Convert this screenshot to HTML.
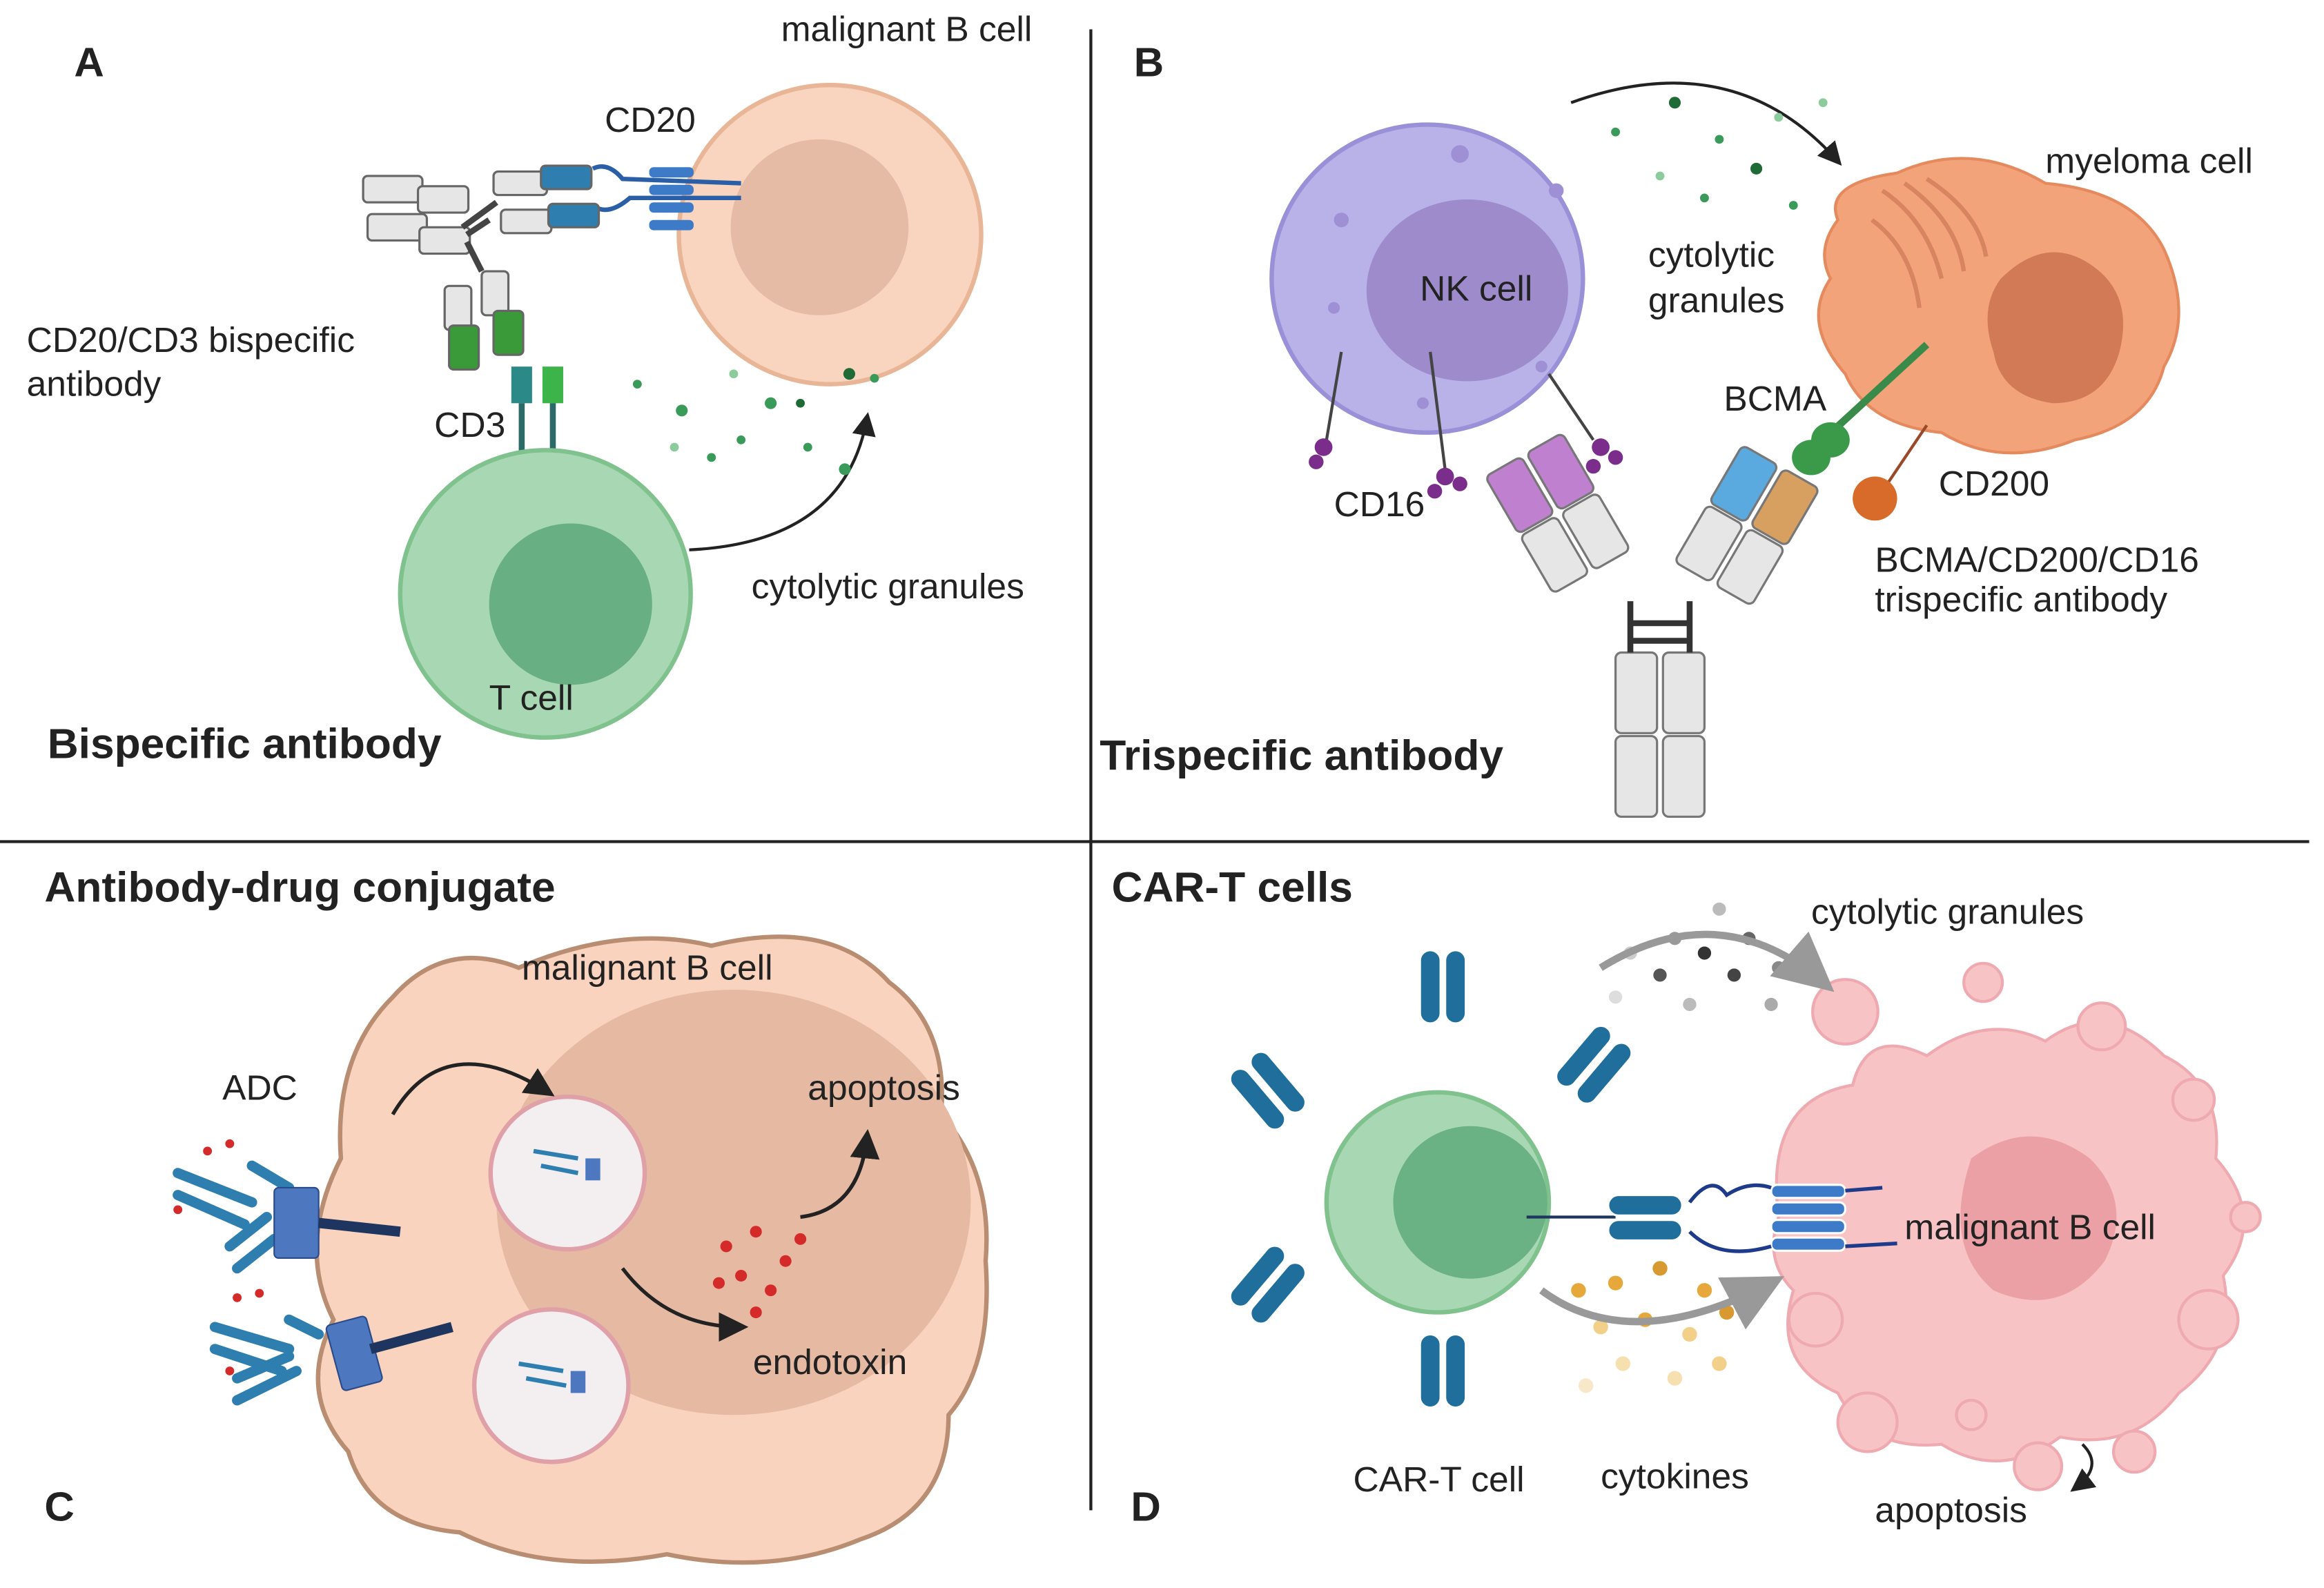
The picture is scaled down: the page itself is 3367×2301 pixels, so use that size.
<!DOCTYPE html>
<html><head><meta charset="utf-8"><style>
html,body{margin:0;padding:0;background:#fff;}
svg{display:block;}
text{font-family:"Liberation Sans",sans-serif;fill:#222;}
.b{font-weight:bold;}
</style></head><body>
<svg width="3367" height="2301" viewBox="0 0 1568 1083" preserveAspectRatio="none" xmlns="http://www.w3.org/2000/svg">
<defs>
<marker id="ar" markerWidth="8" markerHeight="8" refX="6" refY="4" orient="auto"><path d="M0,0 L8,4 L0,8 z" fill="#222"/></marker>
<marker id="ag" markerWidth="8" markerHeight="8" refX="6" refY="4" orient="auto"><path d="M0,0 L8,4 L0,8 z" fill="#999"/></marker>
</defs>
<rect width="1568" height="1083" fill="#fff"/>
<line x1="736" y1="20" x2="736" y2="1030" stroke="#222" stroke-width="2"/>
<line x1="0" y1="574" x2="1558" y2="574" stroke="#222" stroke-width="2"/>

<!-- Panel A -->
<text x="50" y="52" font-size="28" class="b">A</text>
<circle cx="560" cy="160" r="102" fill="#f9d5c0" stroke="#e8b596" stroke-width="3"/>
<circle cx="553" cy="155" r="60" fill="#e6bba5"/>
<text x="527" y="28" font-size="24">malignant B cell</text>
<text x="408" y="90" font-size="24">CD20</text>
<g stroke="#2a5fa8" stroke-width="3" fill="none">
<path d="M400,115 Q410,110 420,122 L500,125"/><path d="M400,140 Q410,148 425,135 L500,135"/>
</g>
<g fill="#3d7bc9"><rect x="438" y="114" width="30" height="7" rx="3"/><rect x="438" y="126" width="30" height="7" rx="3"/><rect x="438" y="138" width="30" height="7" rx="3"/><rect x="438" y="150" width="30" height="7" rx="3"/></g>
<g stroke="#666" stroke-width="1.5">
<rect x="333" y="117" width="36" height="16" rx="3" fill="#e6e6e6"/><rect x="365" y="113" width="34" height="16" rx="3" fill="#2e7fb0"/>
<rect x="338" y="143" width="34" height="16" rx="3" fill="#e6e6e6"/><rect x="370" y="139" width="34" height="16" rx="3" fill="#2e7fb0"/>
<rect x="245" y="120" width="40" height="18" rx="3" fill="#e6e6e6"/><rect x="282" y="127" width="34" height="18" rx="3" fill="#e6e6e6"/>
<rect x="248" y="146" width="40" height="18" rx="3" fill="#e6e6e6"/><rect x="283" y="155" width="34" height="18" rx="3" fill="#e6e6e6"/>
<rect x="300" y="195" width="18" height="30" rx="3" fill="#e6e6e6"/><rect x="303" y="222" width="20" height="30" rx="3" fill="#3a9a3a"/>
<rect x="325" y="185" width="18" height="30" rx="3" fill="#e6e6e6"/><rect x="333" y="212" width="20" height="30" rx="3" fill="#3a9a3a"/>
</g>
<path d="M315,160 L330,150 M315,165 L325,185 M312,155 L335,138" stroke="#444" stroke-width="4" fill="none"/>
<rect x="345" y="250" width="14" height="25" fill="#2b8a88"/><rect x="366" y="250" width="14" height="25" fill="#3cb44a"/>
<line x1="352" y1="275" x2="352" y2="340" stroke="#2b6a66" stroke-width="4"/><line x1="373" y1="275" x2="373" y2="340" stroke="#2b6a66" stroke-width="4"/>
<text x="18" y="240" font-size="24">CD20/CD3 bispecific</text>
<text x="18" y="270" font-size="24">antibody</text>
<text x="293" y="298" font-size="24">CD3</text>
<circle cx="368" cy="405" r="98" fill="#a8d8b3" stroke="#80c28e" stroke-width="3"/>
<circle cx="385" cy="412" r="55" fill="#68b083"/>
<text x="330" y="484" font-size="24">T cell</text>
<path d="M465,375 Q570,370 585,285" stroke="#222" stroke-width="2" fill="none" marker-end="url(#ar)"/>
<text x="507" y="408" font-size="24">cytolytic granules</text>
<g fill="#3a9a5a"><circle cx="430" cy="262" r="3"/><circle cx="460" cy="280" r="4"/><circle cx="500" cy="300" r="3"/><circle cx="520" cy="275" r="4"/><circle cx="545" cy="305" r="3"/><circle cx="570" cy="320" r="4"/><circle cx="590" cy="258" r="3"/><circle cx="480" cy="312" r="3"/><circle cx="540" cy="275" r="3" fill="#1f6b35"/><circle cx="495" cy="255" r="3" fill="#8ccc9c"/><circle cx="573" cy="255" r="4" fill="#1f6b35"/><circle cx="455" cy="305" r="3" fill="#8ccc9c"/></g>
<text x="32" y="517" font-size="29" class="b">Bispecific antibody</text>

<!-- Panel B -->
<text x="765" y="52" font-size="28" class="b">B</text>
<circle cx="963" cy="190" r="105" fill="#b9b2e8" stroke="#9a90d8" stroke-width="3"/>
<ellipse cx="990" cy="198" rx="68" ry="62" fill="#9d8bcb"/>
<text x="958" y="205" font-size="24">NK cell</text>
<g fill="#9f90d5"><circle cx="905" cy="150" r="5"/><circle cx="985" cy="105" r="6"/><circle cx="1050" cy="130" r="5"/><circle cx="900" cy="210" r="4"/><circle cx="1040" cy="250" r="4"/><circle cx="960" cy="275" r="4"/></g>
<g stroke="#444" stroke-width="2" fill="none"><path d="M905,240 L895,300"/><path d="M965,240 L975,320"/><path d="M1045,255 L1075,300"/></g>
<g fill="#7a2d8a"><circle cx="893" cy="305" r="6"/><circle cx="888" cy="315" r="5"/><circle cx="975" cy="325" r="6"/><circle cx="985" cy="330" r="5"/><circle cx="968" cy="335" r="5"/><circle cx="1080" cy="305" r="6"/><circle cx="1090" cy="312" r="5"/><circle cx="1075" cy="318" r="5"/></g>
<text x="900" y="352" font-size="24">CD16</text>
<path d="M1240,150 Q1230,125 1280,118 Q1330,95 1380,125 Q1440,130 1460,170 Q1480,215 1460,250 Q1450,290 1400,300 Q1350,320 1310,295 Q1260,290 1245,255 Q1215,220 1235,190 Q1225,170 1240,150 Z" fill="#f3a37a" stroke="#e58a5e" stroke-width="2"/>
<path d="M1350,190 Q1380,160 1410,180 Q1440,200 1430,240 Q1420,275 1385,275 Q1350,270 1345,240 Q1335,210 1350,190 Z" fill="#d27a55"/>
<g stroke="#d98460" stroke-width="3" fill="none"><path d="M1270,130 Q1300,150 1310,190"/><path d="M1285,125 Q1320,150 1325,185"/><path d="M1300,122 Q1335,145 1340,175"/><path d="M1263,150 Q1290,170 1295,210"/></g>
<text x="1380" y="118" font-size="24">myeloma cell</text>
<text x="1112" y="182" font-size="24">cytolytic</text>
<text x="1112" y="213" font-size="24">granules</text>
<path d="M1060,70 Q1170,30 1240,110" stroke="#222" stroke-width="2" fill="none" marker-end="url(#ar)"/>
<g fill="#3a9a5a"><circle cx="1090" cy="90" r="3"/><circle cx="1130" cy="70" r="4" fill="#1f6b35"/><circle cx="1160" cy="95" r="3"/><circle cx="1185" cy="115" r="4" fill="#1f6b35"/><circle cx="1210" cy="140" r="3"/><circle cx="1120" cy="120" r="3" fill="#8ccc9c"/><circle cx="1150" cy="135" r="3"/><circle cx="1200" cy="80" r="3" fill="#8ccc9c"/><circle cx="1230" cy="70" r="3" fill="#8ccc9c"/></g>
<line x1="1230" y1="300" x2="1300" y2="235" stroke="#3a8a4a" stroke-width="5"/>
<ellipse cx="1235" cy="300" rx="13" ry="12" fill="#3a9a4a"/><ellipse cx="1222" cy="312" rx="13" ry="12" fill="#3a9a4a"/>
<text x="1163" y="280" font-size="24">BCMA</text>
<line x1="1270" y1="335" x2="1300" y2="290" stroke="#9a4a2a" stroke-width="2"/>
<circle cx="1265" cy="340" r="15" fill="#d86a2a"/>
<text x="1308" y="338" font-size="24">CD200</text>
<text x="1265" y="390" font-size="24">BCMA/CD200/CD16</text>
<text x="1265" y="417" font-size="24">trispecific antibody</text>
<g stroke="#777" stroke-width="1.5">
<rect x="1090" y="445" width="28" height="55" rx="4" fill="#e6e6e6"/><rect x="1122" y="445" width="28" height="55" rx="4" fill="#e6e6e6"/>
<rect x="1090" y="502" width="28" height="55" rx="4" fill="#e6e6e6"/><rect x="1122" y="502" width="28" height="55" rx="4" fill="#e6e6e6"/>
<g transform="rotate(-30 1025 335)"><rect x="1010" y="315" width="28" height="45" rx="4" fill="#c080d0"/><rect x="1042" y="315" width="28" height="45" rx="4" fill="#c080d0"/><rect x="1010" y="362" width="28" height="45" rx="4" fill="#e6e6e6"/><rect x="1042" y="362" width="28" height="45" rx="4" fill="#e6e6e6"/></g>
<g transform="rotate(30 1195 340)"><rect x="1160" y="318" width="28" height="45" rx="4" fill="#5aaae0"/><rect x="1192" y="318" width="28" height="45" rx="4" fill="#d8a060"/><rect x="1160" y="365" width="28" height="45" rx="4" fill="#e6e6e6"/><rect x="1192" y="365" width="28" height="45" rx="4" fill="#e6e6e6"/></g>
</g>
<path d="M1100,410 L1100,445 M1140,410 L1140,445 M1100,425 L1140,425 M1100,437 L1140,437" stroke="#333" stroke-width="4"/>
<text x="742" y="525" font-size="29" class="b">Trispecific antibody</text>

<!-- Panel C -->
<text x="30" y="615" font-size="29" class="b">Antibody-drug conjugate</text>
<text x="30" y="1037" font-size="28" class="b">C</text>
<path d="M265,680 Q300,640 350,660 Q420,630 480,645 Q560,625 600,670 Q640,700 635,760 Q670,800 665,860 Q670,930 640,965 Q640,1030 580,1050 Q520,1075 450,1060 Q370,1075 310,1045 Q250,1040 235,990 Q200,950 225,900 Q200,850 230,790 Q225,720 265,680 Z" fill="#f9d3bd" stroke="#b98d72" stroke-width="3"/>
<ellipse cx="495" cy="820" rx="160" ry="145" fill="#e6b9a2"/>
<text x="352" y="668" font-size="24">malignant B cell</text>
<circle cx="383" cy="800" r="52" fill="#f3eff0" stroke="#e0a0a8" stroke-width="3"/>
<circle cx="372" cy="945" r="52" fill="#f3eff0" stroke="#e0a0a8" stroke-width="3"/>
<path d="M265,760 Q300,700 370,745" stroke="#222" stroke-width="2.5" fill="none" marker-end="url(#ar)"/>
<path d="M420,865 Q450,905 500,905" stroke="#222" stroke-width="2.5" fill="none" marker-end="url(#ar)"/>
<path d="M540,830 Q580,825 585,775" stroke="#222" stroke-width="2.5" fill="none" marker-end="url(#ar)"/>
<text x="545" y="750" font-size="24">apoptosis</text>
<text x="508" y="937" font-size="24">endotoxin</text>
<text x="150" y="750" font-size="24">ADC</text>
<g fill="#d42a2a"><circle cx="490" cy="850" r="4"/><circle cx="510" cy="840" r="4"/><circle cx="530" cy="860" r="4"/><circle cx="500" cy="870" r="4"/><circle cx="520" cy="880" r="4"/><circle cx="485" cy="875" r="4"/><circle cx="540" cy="845" r="4"/><circle cx="510" cy="895" r="4"/></g>
<g stroke="#2e7fb0" stroke-width="7" stroke-linecap="round" fill="none">
<path d="M120,800 L170,820 M120,815 L165,835 M155,850 L180,830 M160,865 L185,845 M170,795 L195,810"/>
<path d="M145,905 L195,920 M145,920 L190,935 M160,955 L200,935 M160,940 L195,925 M195,900 L215,910"/>
</g>
<rect x="185" y="810" width="30" height="48" rx="3" fill="#4d78c0" stroke="#2a4a8a"/>
<line x1="215" y1="834" x2="270" y2="840" stroke="#1e3560" stroke-width="7"/>
<rect x="225" y="900" width="28" height="46" rx="3" fill="#4d78c0" stroke="#2a4a8a" transform="rotate(-15 239 923)"/>
<line x1="250" y1="920" x2="305" y2="905" stroke="#1e3560" stroke-width="7"/>
<g fill="#d42a2a"><circle cx="140" cy="785" r="3"/><circle cx="155" cy="780" r="3"/><circle cx="120" cy="825" r="3"/><circle cx="160" cy="885" r="3"/><circle cx="175" cy="882" r="3"/><circle cx="155" cy="935" r="3"/></g>
<g stroke="#2e7fb0" stroke-width="3"><path d="M360,785 L390,790 M365,795 L390,800"/><path d="M350,930 L380,935 M355,940 L382,945"/></g>
<rect x="395" y="790" width="10" height="15" fill="#4d78c0"/><rect x="385" y="935" width="10" height="15" fill="#4d78c0"/>

<!-- Panel D -->
<text x="750" y="615" font-size="29" class="b">CAR-T cells</text>
<text x="763" y="1037" font-size="28" class="b">D</text>
<text x="1222" y="630" font-size="24">cytolytic granules</text>
<path d="M1200,830 Q1190,750 1250,740 Q1260,700 1300,720 Q1340,690 1380,710 Q1420,680 1460,720 Q1500,740 1495,790 Q1530,830 1500,870 Q1510,920 1470,950 Q1440,990 1390,980 Q1350,1010 1310,985 Q1260,990 1240,950 Q1195,930 1210,880 Q1190,860 1200,830 Z" fill="#f7c3c5" stroke="#eeaab0" stroke-width="2"/>
<path d="M1330,790 Q1370,760 1410,790 Q1440,820 1420,860 Q1390,900 1345,880 Q1310,850 1330,790 Z" fill="#eba0a5"/>
<g fill="#f7c3c5" stroke="#eeaab0" stroke-width="2"><circle cx="1245" cy="690" r="22"/><circle cx="1338" cy="670" r="13"/><circle cx="1418" cy="700" r="16"/><circle cx="1480" cy="750" r="14"/><circle cx="1515" cy="830" r="10"/><circle cx="1490" cy="900" r="20"/><circle cx="1260" cy="970" r="20"/><circle cx="1330" cy="965" r="10"/><circle cx="1375" cy="1000" r="16"/><circle cx="1440" cy="990" r="14"/><circle cx="1225" cy="900" r="18"/></g>
<text x="1285" y="845" font-size="24">malignant B cell</text>
<path d="M1405,985 Q1420,1000 1400,1015" stroke="#222" stroke-width="2" fill="none" marker-end="url(#ar)"/>
<text x="1265" y="1038" font-size="24">apoptosis</text>
<circle cx="970" cy="820" r="75" fill="#a8d8b3" stroke="#80c28e" stroke-width="3"/>
<circle cx="992" cy="820" r="52" fill="#6ab184"/>
<line x1="1030" y1="830" x2="1090" y2="830" stroke="#1e3560" stroke-width="2"/>
<g fill="#1f6e9c" stroke="#fff" stroke-width="1.5">
<rect x="958" y="648" width="14" height="50" rx="7"/><rect x="975" y="648" width="14" height="50" rx="7"/>
<rect x="958" y="910" width="14" height="50" rx="7"/><rect x="975" y="910" width="14" height="50" rx="7"/>
<g transform="rotate(-40 860 740)"><rect x="838" y="715" width="14" height="50" rx="7"/><rect x="856" y="715" width="14" height="50" rx="7"/></g>
<g transform="rotate(40 860 880)"><rect x="838" y="855" width="14" height="50" rx="7"/><rect x="856" y="855" width="14" height="50" rx="7"/></g>
<g transform="rotate(40 1080 730)"><rect x="1058" y="705" width="14" height="50" rx="7"/><rect x="1076" y="705" width="14" height="50" rx="7"/></g>
<rect x="1085" y="815" width="50" height="14" rx="7"/><rect x="1085" y="832" width="50" height="14" rx="7"/>
<rect x="1195" y="808" width="50" height="9" rx="4" fill="#3d7bc9"/><rect x="1195" y="820" width="50" height="9" rx="4" fill="#3d7bc9"/><rect x="1195" y="832" width="50" height="9" rx="4" fill="#3d7bc9"/><rect x="1195" y="844" width="50" height="9" rx="4" fill="#3d7bc9"/>
</g>
<path d="M1140,820 Q1155,800 1165,815 Q1180,805 1195,810 M1140,840 Q1160,860 1195,850 M1245,812 L1270,810 M1245,850 L1280,848" stroke="#1e3a8a" stroke-width="2.5" fill="none"/>
<g stroke="#fff" stroke-width="1"><circle cx="1100" cy="650" r="5" fill="#ccc"/><circle cx="1130" cy="640" r="5" fill="#999"/><circle cx="1160" cy="620" r="5" fill="#bbb"/><circle cx="1120" cy="665" r="5" fill="#555"/><circle cx="1150" cy="650" r="5" fill="#333"/><circle cx="1180" cy="640" r="5" fill="#666"/><circle cx="1170" cy="665" r="5" fill="#444"/><circle cx="1200" cy="660" r="5" fill="#888"/><circle cx="1090" cy="680" r="5" fill="#ddd"/><circle cx="1140" cy="685" r="5" fill="#bbb"/><circle cx="1195" cy="685" r="5" fill="#aaa"/></g>
<path d="M1080,660 Q1160,610 1230,670" stroke="#999" stroke-width="5" fill="none" marker-end="url(#ag)"/>
<g fill="#e6a83a"><circle cx="1065" cy="880" r="5"/><circle cx="1090" cy="875" r="5"/><circle cx="1120" cy="865" r="5" fill="#d89a30"/><circle cx="1150" cy="880" r="5"/><circle cx="1080" cy="905" r="5" fill="#f3d08a"/><circle cx="1110" cy="900" r="5"/><circle cx="1140" cy="910" r="5" fill="#f3d08a"/><circle cx="1165" cy="895" r="5" fill="#d89a30"/><circle cx="1095" cy="930" r="5" fill="#f6e0b0"/><circle cx="1130" cy="940" r="5" fill="#f6e0b0"/><circle cx="1160" cy="930" r="5" fill="#f3d08a"/><circle cx="1070" cy="945" r="5" fill="#f6e8c8"/></g>
<path d="M1040,880 Q1100,925 1195,875" stroke="#999" stroke-width="5" fill="none" marker-end="url(#ag)"/>
<text x="913" y="1017" font-size="24">CAR-T cell</text>
<text x="1080" y="1015" font-size="24">cytokines</text>
</svg>
</body></html>
